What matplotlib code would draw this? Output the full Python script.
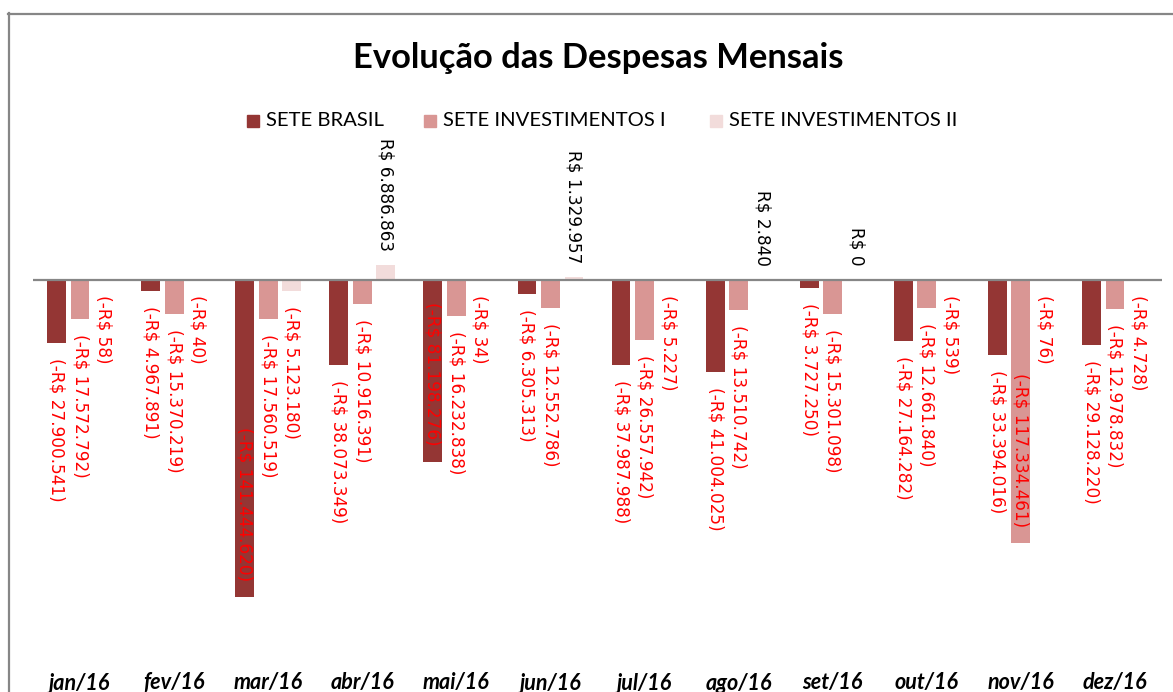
import numpy as np
import matplotlib
matplotlib.use("Agg")
import matplotlib.pyplot as plt
from matplotlib.patches import Rectangle
from matplotlib.lines import Line2D

months = ["jan/16", "fev/16", "mar/16", "abr/16", "mai/16", "jun/16",
          "jul/16", "ago/16", "set/16", "out/16", "nov/16", "dez/16"]
series_names = ["SETE BRASIL", "SETE INVESTIMENTOS I", "SETE INVESTIMENTOS II"]
sete_brasil = [-27900541, -4967891, -141444620, -38073349, -81198276, -6305313,
               -37987988, -41004025, -3727250, -27164282, -33394016, -29128220]
sete_inv_1 = [-17572792, -15370219, -17560519, -10916391, -16232838, -12552786,
              -26557942, -13510742, -15301098, -12661840, -117334461, -12978832]
sete_inv_2 = [-58, -40, -5123180, 6886863, -34, 1329957,
              -5227, 2840, 0, -539, -76, -4728]
colors = ["#943634", "#D99694", "#F2DCDB"]

W, H = 1173, 692
fig = plt.figure(figsize=(W / 100, H / 100), dpi=100)
fig.patch.set_facecolor("white")

ax_top_px, ax_bot_px = 140, 660
ax_left_px, ax_right_px = 33, 1162
ax = fig.add_axes([ax_left_px / W, 1 - ax_bot_px / H,
                   (ax_right_px - ax_left_px) / W, (ax_bot_px - ax_top_px) / H])
zero_px = 280
scale = (597 - 280) / 141.44462e6  # px per unit
ax.set_ylim(-(ax_bot_px - zero_px) / scale, (zero_px - ax_top_px) / scale)
ax.set_xlim(-0.5, len(months) - 0.5)
ax.axis("off")

def fmt(v):
    s = f"{abs(v):,.0f}".replace(",", ".")
    return f"(-R$ {s})" if v < 0 else f"R$ {s}"

x = np.arange(len(months))
offsets = [-0.25, 0.0, 0.25]
all_series = [sete_brasil, sete_inv_1, sete_inv_2]
px2pt = 72 / 100
LFS = 12.2
for s_vals, off, col in zip(all_series, offsets, colors):
    ax.bar(x + off, s_vals, width=0.2, color=col, zorder=2)
    for xi, v in zip(x + off, s_vals):
        if v < -60e6:
            ax.annotate(fmt(v), (xi, v), xytext=(0, 16 * px2pt), textcoords="offset points",
                        rotation=270, ha="center", va="bottom", color="red",
                        fontsize=LFS, family="DejaVu Sans", zorder=4)
        elif v < 0:
            ax.annotate(fmt(v), (xi, v), xytext=(0, -15 * px2pt), textcoords="offset points",
                        rotation=270, ha="center", va="top", color="red",
                        fontsize=LFS, family="DejaVu Sans", zorder=4)
        else:
            ax.annotate(fmt(v), (xi, v), xytext=(0, 14 * px2pt), textcoords="offset points",
                        rotation=270, ha="center", va="bottom", color="black",
                        fontsize=LFS, family="DejaVu Sans", zorder=4)

ax.axhline(0, color="#868686", lw=1.6, zorder=3)

label_y = -(683 - ax_bot_px) / (ax_bot_px - ax_top_px)
for xi, m in zip(x, months):
    ax.text(xi, label_y, m, transform=ax.get_xaxis_transform(),
            ha="center", va="center", fontsize=15.5, fontweight="bold", style="italic",
            family="Lato")

fig.text(598 / W, 1 - 58 / H, "Evolução das Despesas Mensais", ha="center", va="center",
         fontsize=24.8, fontweight="bold", family="Lato")

leg_sq = [247, 424, 710]
leg_tx = [266, 443, 729]
for sx, tx, name, col in zip(leg_sq, leg_tx, series_names, colors):
    fig.add_artist(Rectangle((sx / W, 1 - 127 / H), 12 / W, 12 / H,
                             transform=fig.transFigure, color=col))
    fig.text(tx / W, 1 - 121 / H, name, ha="left", va="center", fontsize=14.6, family="Lato")

fig.add_artist(Line2D([8.5 / W, 8.5 / W], [0, 1 - 13 / H], transform=fig.transFigure,
                      color="#868686", lw=1.6))
fig.add_artist(Line2D([8 / W, 1], [1 - 13.5 / H, 1 - 13.5 / H], transform=fig.transFigure,
                      color="#868686", lw=1.6))

fig.savefig("out.png", dpi=100)
